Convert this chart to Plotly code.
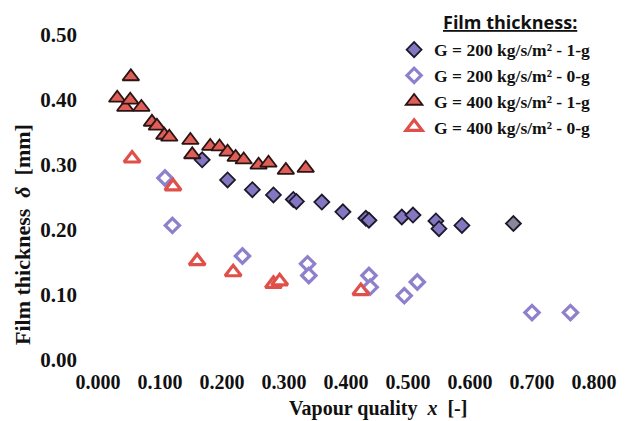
import plotly.graph_objects as go

# G = 200 kg/s/m2 - 1-g (filled diamonds)
x_200_1g = [0.168, 0.209, 0.249, 0.283, 0.315, 0.320, 0.361, 0.395, 0.432, 0.437, 0.490, 0.508, 0.545, 0.550, 0.587, 0.670]
y_200_1g = [0.308, 0.277, 0.262, 0.254, 0.247, 0.244, 0.243, 0.228, 0.218, 0.215, 0.220, 0.223, 0.214, 0.202, 0.207, 0.210]

# G = 200 kg/s/m2 - 0-g (open diamonds)
x_200_0g = [0.108, 0.120, 0.233, 0.338, 0.340, 0.437, 0.439, 0.494, 0.515, 0.700, 0.762]
y_200_0g = [0.280, 0.207, 0.160, 0.148, 0.130, 0.130, 0.112, 0.099, 0.120, 0.073, 0.073]

# G = 400 kg/s/m2 - 1-g (filled triangles)
x_400_1g = [0.031, 0.044, 0.053, 0.052, 0.070, 0.087, 0.095, 0.107, 0.115, 0.149, 0.152,
            0.181, 0.196, 0.209, 0.222, 0.235, 0.259, 0.275, 0.303, 0.335]
y_400_1g = [0.403, 0.389, 0.436, 0.400, 0.389, 0.366, 0.360, 0.346, 0.343, 0.338, 0.316,
            0.329, 0.328, 0.320, 0.312, 0.308, 0.300, 0.303, 0.292, 0.295]

# G = 400 kg/s/m2 - 0-g (open triangles)
x_400_0g = [0.055, 0.121, 0.160, 0.218, 0.283, 0.293, 0.424]
y_400_0g = [0.310, 0.267, 0.152, 0.135, 0.117, 0.121, 0.106]

x_ticks = [0.0, 0.1, 0.2, 0.3, 0.4, 0.5, 0.6, 0.7, 0.8]
y_ticks = [0.0, 0.1, 0.2, 0.3, 0.4, 0.5]

SERIF = "Liberation Serif, Times New Roman, serif"
INK = "#111111"

diamond_colors = ["#8576c2"] * (len(x_200_1g) - 1) + ["#8a8898"]

fig = go.Figure()
fig.add_trace(go.Scatter(
    x=x_200_1g, y=y_200_1g, mode="markers", name="G = 200 kg/s/m² - 1-g",
    marker=dict(symbol="diamond", size=11.5, color=diamond_colors,
                line=dict(color="#1c1a2a", width=1.8))))
fig.add_trace(go.Scatter(
    x=x_200_0g, y=y_200_0g, mode="markers", name="G = 200 kg/s/m² - 0-g",
    marker=dict(symbol="diamond", size=11, color="#ffffff",
                line=dict(color="#8f80cc", width=3.2))))
fig.add_trace(go.Scatter(
    x=x_400_1g, y=y_400_1g, mode="markers", name="G = 400 kg/s/m² - 1-g",
    marker=dict(symbol="triangle-up", size=14.5, color="#df5f58",
                line=dict(color="#2a1414", width=1.8))))
fig.add_trace(go.Scatter(
    x=x_400_0g, y=y_400_0g, mode="markers", name="G = 400 kg/s/m² - 0-g",
    marker=dict(symbol="triangle-up", size=14, color="#ffffff",
                line=dict(color="#e0504a", width=3.2))))

# the page adds an 8 px body margin, so the figure is sized to the visible area
fig.update_layout(
    width=621, height=413,
    margin=dict(l=90, r=35, t=27, b=61),
    paper_bgcolor="white", plot_bgcolor="white",
    font=dict(family=SERIF, size=18, color=INK),
    showlegend=True,
    legend=dict(x=0.597, y=1.01, xanchor="left", yanchor="top",
                font=dict(family=SERIF, size=17.5, color=INK, weight="bold"),
                bgcolor="rgba(0,0,0,0)", itemwidth=30, tracegroupgap=0),
)

fig.add_annotation(text="<u>Film thickness:</u>", x=0.83, y=1.04,
                   xref="paper", yref="paper", xanchor="center", yanchor="middle",
                   showarrow=False,
                   font=dict(family="Open Sans, sans-serif", size=18, color=INK, weight="bold"))
fig.add_annotation(text="<b>Vapour quality  <i>x</i>  [-]</b>", x=0.565, y=-0.1485,
                   xref="paper", yref="paper", xanchor="center", yanchor="middle",
                   showarrow=False, font=dict(family=SERIF, size=20, color=INK))
fig.add_annotation(text="<b>Film thickness  <i>δ</i>  [mm]</b>", x=-0.151, y=0.385,
                   xref="paper", yref="paper", xanchor="center", yanchor="middle",
                   textangle=-90, showarrow=False, font=dict(family=SERIF, size=22, color=INK))

fig.update_xaxes(range=[0, 0.8], tickvals=x_ticks, tickformat=".3f",
                 showgrid=False, zeroline=False, showline=False, ticks="",
                 tickfont=dict(family=SERIF, size=20, color=INK, weight="bold"),
                 ticklabelstandoff=8, ticklabeloverflow="allow")
fig.update_yaxes(range=[0, 0.5], tickvals=y_ticks, tickformat=".2f",
                 showgrid=False, zeroline=False, showline=False, ticks="",
                 tickfont=dict(family=SERIF, size=21, color=INK, weight="bold"),
                 ticklabelstandoff=20, ticklabeloverflow="allow")

fig.write_html("out.html")
